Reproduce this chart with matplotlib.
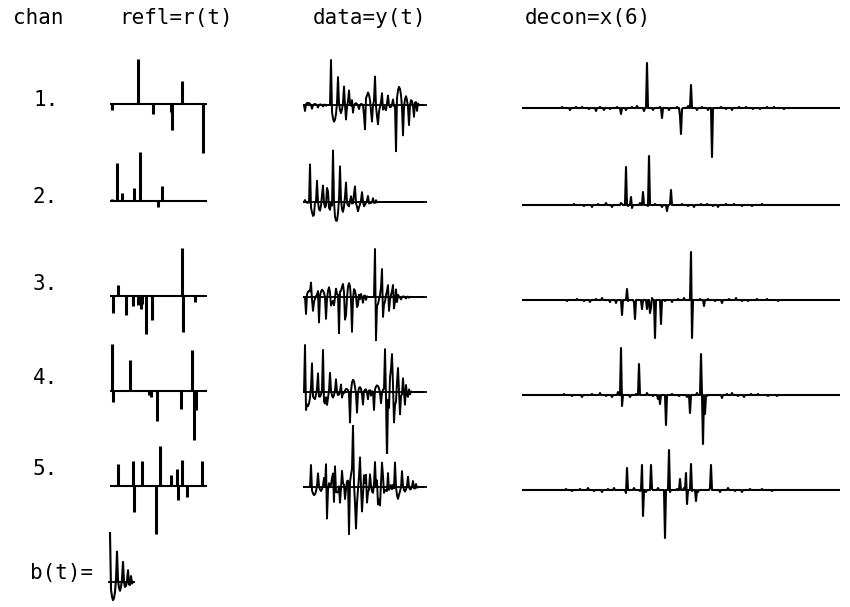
import numpy as np
import matplotlib.pyplot as plt

W, H = 850, 607

chan_labels = ['1.', '2.', '3.', '4.', '5.']
headers = ['chan', 'refl=r(t)', 'data=y(t)', 'decon=x(6)']

# reflectivity spikes per channel: (sample, amplitude)
refl_spikes = [
    [(2, -6), (28, 45), (43, -10), (61, -8), (62, -26), (72, 23), (93, -49)],
    [(2, 2), (7, 38), (12, 8), (24, 13), (30, 49), (48, -6), (52, 15)],
    [(3, -17), (8, 11), (16, -19), (23, -10), (28, -9), (31, -13), (32, -8),
     (36, -38), (42, -24), (72, 48), (73, -36), (85, -6)],
    [(2, 47), (3, -11), (20, 31), (39, -4), (41, -6), (47, -30), (71, -18),
     (82, 41), (84, -49), (86, -19)],
    [(8, 22), (23, 25), (24, -26), (32, 25), (46, -48), (50, 40), (61, 11),
     (67, 17), (68, -14), (72, 26), (77, -11), (92, 25)],
]
n_refl = 98

# source wavelet b(t), peak = 1
wavelet = [1.0, -0.15, -0.30, -0.37, -0.33, -0.20, 0.05, 0.62, 0.05, -0.12,
           -0.18, -0.10, 0.05, 0.41, 0.0, -0.10, -0.08, 0.02, 0.24, -0.05,
           -0.06, 0.12, -0.03, 0.0]
wavelet_px = 49

# residual wiggles left in the deconvolved traces: (sample, amplitude)
decon_resid = [
    [(40, 1), (48, -2), (54, 1), (60, 1), (67, -1), (74, -3), (78, 1), (82, -2),
     (88, -1), (95, 1), (104, -2), (110, 1), (115, 2), (122, -3), (131, -2),
     (138, 1), (147, -2), (155, 1), (160, -1), (166, 2), (175, -2), (180, 1),
     (186, -2), (199, 1), (204, -1), (210, -2), (217, 1), (224, 1), (231, -1),
     (238, -1), (245, 1), (252, 1), (262, -1)],
    [(52, 1), (62, -1), (70, -2), (76, 1), (84, 2), (90, -2), (100, 1), (106, -1),
     (110, -3), (118, 2), (126, -1), (133, 1), (140, -2), (148, 1), (160, 1),
     (166, -1), (172, -2), (179, 1), (185, 1), (191, -1), (196, -2), (204, 1),
     (212, 1), (220, -1), (230, -1), (240, 1)],
    [(45, -1), (55, 1), (62, -1), (68, -2), (74, 1), (80, 2), (88, -2), (94, -3),
     (100, 2), (106, -1), (112, -2), (120, 1), (130, 2), (143, -1), (150, -2),
     (156, 1), (162, 2), (170, -2), (178, 1), (186, 1), (193, -1), (200, -3),
     (207, 1), (214, 2), (220, -1), (226, -1), (235, 1), (245, 1), (256, -1)],
    [(42, 1), (50, -1), (60, -2), (70, 1), (78, 2), (84, -1), (90, -2), (96, 3),
     (108, -2), (114, 1), (125, 2), (131, -1), (138, -3), (150, 1), (157, -1),
     (165, -2), (175, 2), (185, -1), (200, -3), (205, 1), (210, 2), (216, -1),
     (222, -2), (229, 1), (236, 1), (246, -1), (255, -1)],
    [(44, 1), (50, -1), (58, 1), (66, 2), (72, -1), (80, -2), (86, 1), (92, 2),
     (104, -3), (112, 2), (118, -1), (124, -2), (130, 1), (136, 2), (148, -2),
     (155, 1), (162, 2), (170, -1), (176, -2), (188, 2), (198, -2), (206, 2),
     (213, -1), (220, -2), (228, 1), (240, 1), (250, -1)],
]
n_decon = 318
decon_start = 97

row_base = [104, 201, 296, 391, 486]
label_y = [100, 197, 284, 378, 469]

MONO = 'DejaVu Sans Mono'


def trace_axes(fig, x0, n, base, half=62):
    ax = fig.add_axes([x0 / W, 1 - (base + half) / H, n / W, 2 * half / H])
    ax.set_xlim(0, n)
    ax.set_ylim(-half, half)
    ax.axis('off')
    return ax


def fig_text(fig, x, y, s, **kw):
    fig.text(x / W, 1 - y / H, s, family=MONO, fontsize=15, va='center', **kw)


fig = plt.figure(figsize=(8.5, 6.07), dpi=100)

for x, s in zip([38, 176, 370, 588], headers):
    fig_text(fig, x, 18, s, ha='center')

for i in range(5):
    base = row_base[i]
    fig_text(fig, 33, label_y[i], chan_labels[i], ha='left')

    r = np.zeros(n_refl)
    for t, a in refl_spikes[i]:
        r[t] = a

    # reflectivity
    ax = trace_axes(fig, 110, n_refl, base)
    ax.hlines(0, 0, n_refl - 1, color='k', lw=1.5)
    idx = [t for t, a in refl_spikes[i]]
    amp = [a for t, a in refl_spikes[i]]
    ax.vlines(idx, 0, amp, color='k', lw=2.2)

    # data = r * b
    y = np.convolve(r, wavelet)
    ax = trace_axes(fig, 303, 124, base + 1)
    ax.hlines(0, 0, 124, color='k', lw=1.3)
    ax.plot(np.arange(len(y)), y, color='k', lw=1.4)

    # deconvolution output
    x = np.zeros(n_decon)
    x[decon_start:decon_start + n_refl] += r
    for t, a in decon_resid[i]:
        x[t] += a
    ax = trace_axes(fig, 522, n_decon, base + 4)
    ax.plot(np.arange(n_decon), x, color='k', lw=1.5)

# wavelet
fig_text(fig, 62, 573, 'b(t)=', ha='center')
ax = fig.add_axes([108 / W, 1 - (582 + 62) / H, 28 / W, 124 / H])
ax.set_xlim(-2, 26)
ax.set_ylim(-62 / wavelet_px, 62 / wavelet_px)
ax.axis('off')
ax.hlines(0, -2, 25, color='k', lw=1.3)
ax.plot(np.arange(len(wavelet)), wavelet, color='k', lw=1.5)

fig.savefig('out.png', dpi=100, facecolor='white')
